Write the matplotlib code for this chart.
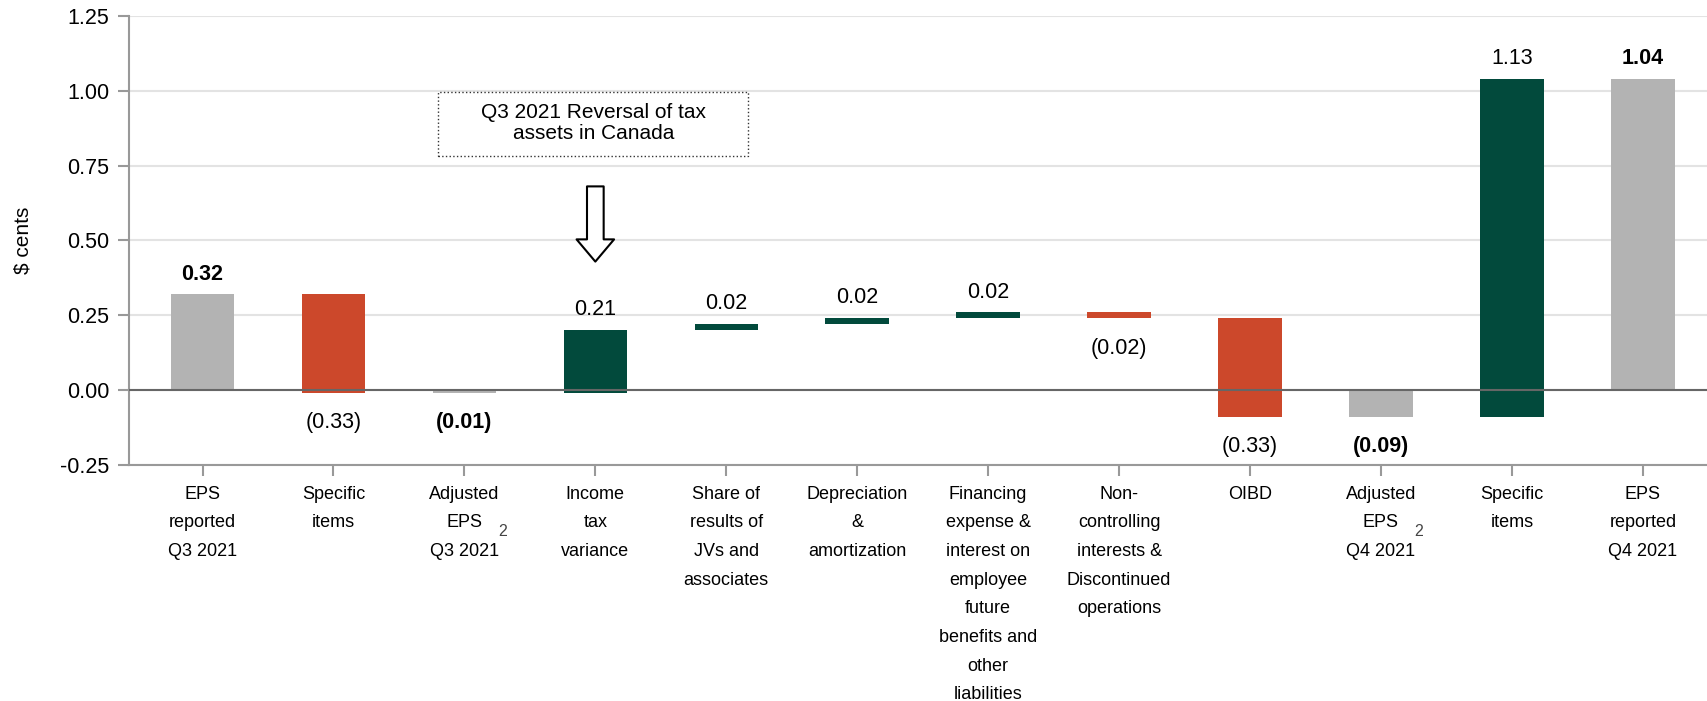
import matplotlib.pyplot as plt
import numpy as np
from matplotlib.patches import Rectangle

# Категорії та значення
categories = ['EPS\nreported\nQ3 2021', 'Specific\nitems', 'Adjusted\nEPS\nQ3 2021',
              'Income\ntax\nvariance', 'Share of\nresults of\nJVs and\nassociates',
              'Depreciation\n&\namortization',
              'Financing\nexpense &\ninterest on\nemployee\nfuture\nbenefits and\nother\nliabilities',
              'Non-\ncontrolling\ninterests &\nDiscontinued\noperations',
              'OIBD', 'Adjusted\nEPS\nQ4 2021', 'Specific\nitems', 'EPS\nreported\nQ4 2021']
deltas = [0.32, -0.33, None, 0.21, 0.02, 0.02, 0.02, -0.02, -0.33, None, 1.13, None]
value_labels = ['0.32', '(0.33)', '(0.01)', '0.21', '0.02', '0.02', '0.02', '(0.02)',
                '(0.33)', '(0.09)', '1.13', '1.04']
is_total = [True, False, True, False, False, False, False, False, False, True, False, True]
footnote_idx = [2, 9]

GRAY = '#b3b3b3'
RED = '#cc482b'
GREEN = '#024a3c'

plt.rcParams['font.family'] = ['Liberation Sans', 'DejaVu Sans']

# Розрахунок водоспаду
bottoms, heights, colors = [], [], []
level = 0.0
for d, tot in zip(deltas, is_total):
    if tot and d is None:
        bottoms.append(0.0)
        heights.append(level)
        colors.append(GRAY)
    elif tot:
        level = d
        bottoms.append(0.0)
        heights.append(d)
        colors.append(GRAY)
    else:
        bottoms.append(level)
        heights.append(d)
        colors.append(GREEN if d > 0 else RED)
        level += d

x = np.arange(len(categories))

fig = plt.figure(figsize=(17.07, 7.01), dpi=100)
ax = fig.add_axes([0.0753, 0.337, 0.9247, 0.640])

ax.bar(x, heights, bottom=bottoms, width=0.485, color=colors, zorder=3)

for i in range(len(x)):
    top = bottoms[i] + heights[i]
    lo, hi = min(bottoms[i], top), max(bottoms[i], top)
    weight = 'bold' if is_total[i] else 'normal'
    if heights[i] < 0:
        ax.annotate(value_labels[i], (x[i], lo), xytext=(0, -14), textcoords='offset points',
                    ha='center', va='top', fontsize=15.5, fontweight=weight)
    else:
        ax.annotate(value_labels[i], (x[i], hi), xytext=(0, 7), textcoords='offset points',
                    ha='center', va='bottom', fontsize=15.5, fontweight=weight)

ax.set_xlim(-0.565, 11.49)
ax.set_ylim(-0.25, 1.25)
ax.set_yticks([-0.25, 0, 0.25, 0.5, 0.75, 1.0, 1.25])
ax.set_yticklabels(['-0.25', '0.00', '0.25', '0.50', '0.75', '1.00', '1.25'], fontsize=15.5)
ax.yaxis.grid(True, color='#e3e3e3', linewidth=1.5, zorder=0)
ax.axhline(0, color='#666666', linewidth=1.5, zorder=4)

ax.set_xticks(x)
ax.set_xticklabels(categories, fontsize=13, linespacing=1.9)
ax.tick_params(axis='x', length=8, color='#999999', width=1.5, pad=7)
ax.tick_params(axis='y', length=8, color='#999999', width=1.5, pad=6)

for s in ['top', 'right']:
    ax.spines[s].set_visible(False)
for s in ['left', 'bottom']:
    ax.spines[s].set_color('#999999')
    ax.spines[s].set_linewidth(1.5)

ax.set_ylabel('$ cents', fontsize=15, labelpad=20)

# Примітка "2"
for i in footnote_idx:
    ax.annotate('2', (x[i] + 0.29, -0.148), xycoords=('data', 'axes fraction'),
                ha='center', va='center', color='#444444', fontsize=11.5)

# Рамка з поясненням і стрілка
ax.add_patch(Rectangle((1.795, 0.782), 2.37, 0.215, fc='white', ec='#333333',
                       ls=':', lw=1, zorder=5))
ax.text(2.984, 0.892, 'Q3 2021 Reversal of tax\nassets in Canada', ha='center', va='center',
        fontsize=15, linespacing=1.1, zorder=6)
ax.annotate('', xy=(3.0, 0.42), xytext=(3.0, 0.69),
            arrowprops=dict(arrowstyle='simple,head_width=2.7,head_length=1.6,tail_width=1.2',
                            fc='white', ec='black', lw=1.5), zorder=5)

fig.savefig('out.png', dpi=100)
